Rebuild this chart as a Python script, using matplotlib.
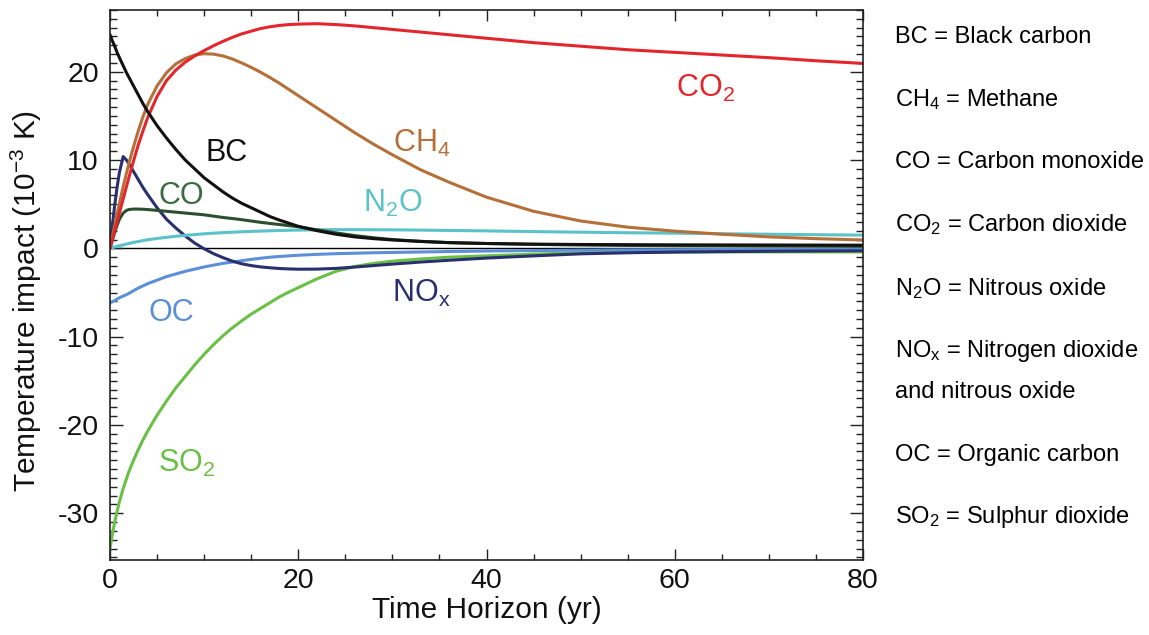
import matplotlib
matplotlib.use("Agg")
import matplotlib.pyplot as plt
from matplotlib.ticker import MultipleLocator

plt.rcParams['font.family'] = ['Liberation Sans', 'DejaVu Sans']
plt.rcParams['mathtext.default'] = 'regular'
plt.rcParams['axes.unicode_minus'] = False

# ---- data ----
years = [0, 0.25, 0.5, 0.75, 1, 1.4, 1.75, 2, 2.5, 3, 3.5, 4, 5, 6, 7, 8, 9,
         10, 11, 12, 13, 14, 15, 16, 17, 18, 19, 20, 22, 24, 26, 28, 30, 33,
         36, 40, 45, 50, 55, 60, 65, 70, 75, 80]

co2 = [0, 1.0, 2.0, 3.0, 4.0, 5.6, 7.0, 8.0, 9.9, 11.7, 13.3, 14.8, 17.2,
       19.0, 20.2, 21.1, 21.8, 22.4, 22.95, 23.45, 23.9, 24.3, 24.6, 24.9,
       25.1, 25.25, 25.35, 25.4, 25.45, 25.35, 25.2, 25.0, 24.8, 24.5, 24.2,
       23.8, 23.3, 22.9, 22.5, 22.2, 21.9, 21.6, 21.25, 20.95]
ch4 = [0, 1.3, 2.6, 3.9, 5.1, 7.0, 8.5, 9.6, 11.5, 13.3, 14.9, 16.3, 18.4,
       19.9, 20.9, 21.5, 21.9, 22.05, 22.0, 21.8, 21.45, 21.0, 20.5, 19.95,
       19.35, 18.7, 18.0, 17.3, 15.9, 14.5, 13.1, 11.8, 10.6, 8.9, 7.5, 5.8,
       4.2, 3.1, 2.4, 1.95, 1.6, 1.3, 1.1, 0.95]
bc = [24.2, 23.5, 22.9, 22.2, 21.6, 20.7, 19.9, 19.4, 18.4, 17.4, 16.4, 15.5,
      13.9, 12.5, 11.2, 10.0, 9.0, 8.0, 7.2, 6.4, 5.7, 5.1, 4.6, 4.1, 3.6,
      3.2, 2.85, 2.5, 2.0, 1.6, 1.3, 1.1, 0.95, 0.78, 0.65, 0.55, 0.48, 0.44,
      0.42, 0.4, 0.39, 0.38, 0.37, 0.36]
co = [0, 0.9, 1.8, 2.6, 3.3, 4.0, 4.3, 4.4, 4.45, 4.45, 4.43, 4.4, 4.3, 4.2,
      4.1, 4.0, 3.9, 3.8, 3.65, 3.5, 3.38, 3.25, 3.1, 2.95, 2.82, 2.7, 2.57,
      2.45, 2.1, 1.75, 1.45, 1.2, 1.0, 0.8, 0.65, 0.55, 0.45, 0.38, 0.33,
      0.3, 0.28, 0.26, 0.25, 0.24]
n2o = [0, 0.08, 0.15, 0.23, 0.3, 0.4, 0.49, 0.55, 0.67, 0.78, 0.88, 0.97,
       1.12, 1.25, 1.37, 1.47, 1.56, 1.65, 1.72, 1.78, 1.83, 1.88, 1.92,
       1.96, 1.99, 2.02, 2.05, 2.07, 2.1, 2.12, 2.12, 2.11, 2.1, 2.07, 2.03,
       1.98, 1.9, 1.83, 1.77, 1.72, 1.66, 1.6, 1.55, 1.5]
nox = [0, 2.6, 4.9, 6.9, 8.6, 10.4, 10.0, 9.6, 8.7, 7.8, 6.9, 6.1, 4.6, 3.3,
       2.3, 1.4, 0.6, -0.05, -0.6, -1.05, -1.45, -1.75, -1.95, -2.1, -2.2,
       -2.28, -2.33, -2.36, -2.35, -2.27, -2.12, -1.95, -1.78, -1.55, -1.35,
       -1.1, -0.85, -0.62, -0.5, -0.42, -0.37, -0.33, -0.3, -0.28]
oc = [-6.2, -6.05, -5.9, -5.75, -5.6, -5.4, -5.25, -5.1, -4.8, -4.5, -4.25,
      -4.0, -3.6, -3.2, -2.9, -2.6, -2.35, -2.1, -1.9, -1.7, -1.55, -1.4,
      -1.25, -1.12, -1.0, -0.92, -0.85, -0.78, -0.68, -0.6, -0.55, -0.5,
      -0.46, -0.41, -0.36, -0.3, -0.25, -0.2, -0.17, -0.15, -0.13, -0.12,
      -0.11, -0.1]
so2 = [-34.0, -32.4, -31.0, -29.8, -28.7, -27.2, -26.1, -25.3, -24.0, -22.8,
       -21.7, -20.7, -18.9, -17.3, -15.8, -14.5, -13.2, -12.0, -10.9, -9.9,
       -9.0, -8.2, -7.45, -6.8, -6.15, -5.5, -4.95, -4.45, -3.45, -2.6,
       -2.05, -1.7, -1.45, -1.2, -1.0, -0.85, -0.65, -0.5, -0.45, -0.42,
       -0.4, -0.4, -0.4, -0.4]

series_vals = [so2, oc, nox, n2o, co, ch4, co2, bc]
series_colors = ['#6abf45', '#5b8fd8', '#2a2f6e', '#5bc2c9', '#2b4f2e',
                 '#b5703a', '#e3262b', '#111111']

label_texts = ['$SO_2$', 'OC', '$NO_x$', '$N_2O$', 'CO', '$CH_4$', '$CO_2$', 'BC']
label_x = [5.1, 4.1, 30.0, 26.9, 5.1, 30.1, 60.1, 10.1]
label_y = [-25.3, -8.2, -6.05, 4.15, 5.0, 10.9, 17.2, 9.9]
label_colors = ['#6abf45', '#5b8fd8', '#2a2f6e', '#5bc2c9', '#3a6b40',
                '#b5703a', '#e3262b', '#111111']

glossary = ['BC = Black carbon', '$CH_4$ = Methane', 'CO = Carbon monoxide',
            '$CO_2$ = Carbon dioxide', '$N_2O$ = Nitrous oxide',
            '$NO_x$ = Nitrogen dioxide', 'and nitrous oxide',
            'OC = Organic carbon', '$SO_2$ = Sulphur dioxide']
glossary_ypx = [37, 100, 162, 225, 289, 351, 392, 455, 517]

# ---- figure ----
W, H = 1149, 635
fig = plt.figure(figsize=(W / 100, H / 100), dpi=100)
ax = fig.add_axes([110 / W, 1 - 560 / H, 753 / W, 550 / H])

ax.axhline(0, color='black', lw=1.0, zorder=1)
for vals, col in zip(series_vals, series_colors):
    ax.plot(years, vals, color=col, lw=2.2, solid_capstyle='round',
            solid_joinstyle='round', zorder=2)

for t, x, y, c in zip(label_texts, label_x, label_y, label_colors):
    ax.text(x, y, t, color=c, fontsize=22, ha='left', va='baseline')

ax.set_xlim(0, 80)
ax.set_ylim(-35.3, 27.0)

ax.xaxis.set_major_locator(MultipleLocator(20))
ax.xaxis.set_minor_locator(MultipleLocator(5))
ax.yaxis.set_major_locator(MultipleLocator(10))
ax.yaxis.set_minor_locator(MultipleLocator(1))

ax.tick_params(axis='both', which='both', direction='in', top=True,
               right=True, colors='#222222', labelcolor='#111111', width=1.0)
ax.tick_params(axis='x', which='major', length=8, pad=6, labelsize=20.5)
ax.tick_params(axis='x', which='minor', length=4.5)
ax.tick_params(axis='y', which='major', length=9.5, pad=8, labelsize=20.5)
ax.tick_params(axis='y', which='minor', length=5)
for sp in ax.spines.values():
    sp.set_linewidth(1.2)
    sp.set_color('#222222')

ax.set_xlabel('Time Horizon (yr)', fontsize=21.5, color='#111111')
ax.xaxis.set_label_coords(0.5, -0.066)
ax.set_ylabel('Temperature impact (10$^{-3}$ K)', fontsize=21.5,
              color='#111111')
ax.yaxis.set_label_coords(-0.087, 0.471)

for txt, ypx in zip(glossary, glossary_ypx):
    fig.text(895 / W, 1 - ypx / H, txt, fontsize=17, ha='left',
             va='center', color='black')

fig.savefig('out.png', dpi=100)
